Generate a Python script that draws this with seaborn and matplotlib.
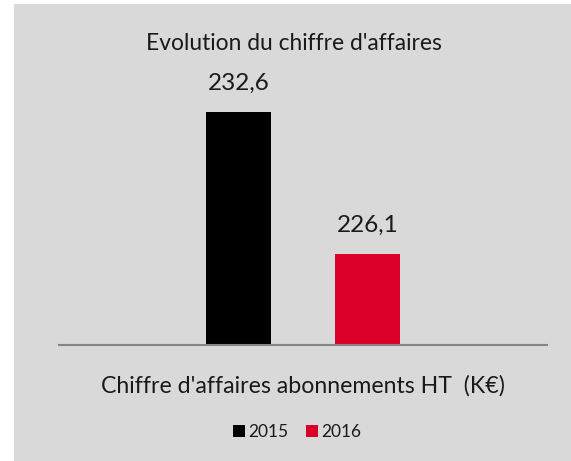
import matplotlib
matplotlib.use('Agg')
import matplotlib.pyplot as plt
import seaborn as sns
import pandas as pd
from matplotlib.patches import Rectangle

# données
annees = ['2015', '2016']
valeurs = [232.6, 226.1]
categorie = ["Chiffre d'affaires abonnements HT  (K€)"]
couleurs = ['#000000', '#dc0028']
titre = "Evolution du chiffre d'affaires"

df = pd.DataFrame({'categorie': categorie * len(annees),
                   'annee': annees,
                   'valeur': valeurs})

sns.set_theme(style='white')
plt.rcParams['font.family'] = ['Lato', 'DejaVu Sans']

fig = plt.figure(figsize=(5.71, 4.61), dpi=100)
fig.patch.set_facecolor('white')
# fond gris du graphique
fig.patches.append(Rectangle((14 / 571, 0), 1, 457 / 461, transform=fig.transFigure,
                             facecolor='#d9d9d9', edgecolor='none', zorder=-10))

ax = fig.add_axes([59 / 571, 116.5 / 461, 488 / 571, 285 / 461])
ax.set_facecolor('none')
sns.barplot(data=df, x='categorie', y='valeur', hue='annee', palette=couleurs,
            width=0.53, gap=0.5, saturation=1, linewidth=0, ax=ax)

ax.set_ylim(221.93, 235)
ax.set_xlim(-0.5, 0.5)

for cont in ax.containers:
    ax.bar_label(cont, labels=[f'{v:.1f}'.replace('.', ',') for v in cont.datavalues],
                 padding=13, fontsize=17.5, color='#1a1a1a')

sns.despine(ax=ax, left=True)
ax.spines['bottom'].set_color('#868686')
ax.spines['bottom'].set_linewidth(1.5)
ax.set_yticks([])
ax.set_xlabel('')
ax.set_ylabel('')
ax.tick_params(axis='x', length=0, pad=22, labelsize=16.7, labelcolor='#1a1a1a')

fig.text(0.515, 1 - 44 / 461, titre, ha='center', va='center', fontsize=16.4, color='#1a1a1a')

ax.legend(loc='center', bbox_to_anchor=(297 / 571, 1 - 432 / 461), bbox_transform=fig.transFigure,
          ncol=2, frameon=False, fontsize=12.5, handlelength=0.7, handleheight=0.7,
          handletextpad=0.2, columnspacing=1.0, labelcolor='#1a1a1a')

fig.savefig('out.png', dpi=100)
